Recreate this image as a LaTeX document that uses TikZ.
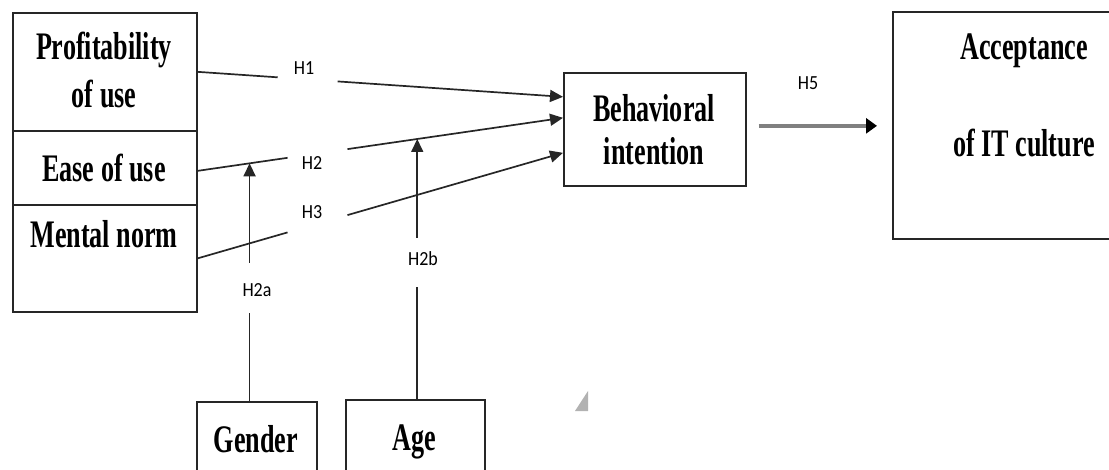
\documentclass[tikz,border=0pt]{standalone}
\usepackage{fontspec}
\setmainfont{Liberation Serif}
\newfontfamily\boxfont[FakeStretch=0.67]{Liberation Serif}
\newfontfamily\hfont[FakeStretch=0.9]{Carlito}
\usetikzlibrary{arrows.meta,calc}
\begin{document}
\begin{tikzpicture}[x=1pt,y=-1pt,
  box/.style={draw=black!85, line width=1.7pt, inner sep=0pt, anchor=north west},
  txt/.style={font=\boxfont\bfseries\fontsize{39}{44}\selectfont, anchor=base, inner sep=0pt},
  hl/.style={font=\hfont\fontsize{20}{22}\selectfont, inner sep=0pt},
  link/.style={line width=1.7pt, draw=black!85},
  arr/.style={link, -{Triangle[length=13pt,width=12pt]}},
  bigarr/.style={line width=4.5pt, draw=black!50, -{Triangle[length=11pt,width=15pt,color=black]}},
]
\useasboundingbox (0,0) rectangle (1109,470);

% boxes
\node[box, minimum width=184pt, minimum height=118pt] (prof) at (12,12) {};
\node[box, minimum width=184pt, minimum height=74pt] (ease) at (12,130) {};
\node[box, minimum width=184pt, minimum height=107pt] (mental) at (12,204) {};
\node[box, minimum width=182pt, minimum height=113pt] (beh) at (563,72) {};
\node[box, draw=none, minimum width=216pt, minimum height=225pt] (acc) at (893,12) {};
\draw[link, line cap=butt] (acc.north east) -- (acc.north west) -- (acc.south west) -- (acc.south east);
\node[box, draw=none, minimum width=118pt, minimum height=68pt] (gender) at (197,402) {};
\draw[link] (gender.south west) -- (gender.north west) -- (gender.north east) -- (gender.south east);
\node[box, draw=none, minimum width=137pt, minimum height=70pt] (age) at (346,400) {};
\draw[link] (age.south west) -- (age.north west) -- (age.north east) -- (age.south east);

% box texts
\node[txt] (t1) at (104,60) {Profitability};
\node[txt] (t2) at (104,108) {of use};
\node[txt] (t3) at (104,182) {Ease of use};
\node[txt] (t4) at (104,248) {Mental norm};
\node[txt] (t5) at (654,122) {Behavioral};
\node[txt] (t6) at (654,165) {intention};
\node[txt] (t7) at (1024,60) {Acceptance};
\node[txt] (t8) at (1024,157) {of IT culture};
\node[txt] (t9) at (256,452) {Gender};
\node[txt] (t10) at (414,450) {Age};

% connector end points
\coordinate (h1a) at (prof.east);
\coordinate (h1b) at ($(beh.west)+(0,-32.5)$);
\coordinate (h2a) at ($(ease.east)+(0,3)$);
\coordinate (h2b) at ($(beh.west)+(0,-11.5)$);
\coordinate (h3a) at (mental.east);
\coordinate (h3b) at ($(beh.west)+(0,23.5)$);

% H1
\draw[link] (h1a) -- ($(h1a)!0.219!(h1b)$);
\draw[arr] ($(h1a)!0.383!(h1b)$) -- (h1b);
% H2
\draw[link] (h2a) -- ($(h2a)!0.246!(h2b)$);
\draw[arr] ($(h2a)!0.41!(h2b)$) -- (h2b);
% H3
\draw[link] (h3a) -- ($(h3a)!0.246!(h3b)$);
\draw[arr] ($(h3a)!0.41!(h3b)$) -- (h3b);

\node[hl] (lh1) at (304,68) {H1};
\node[hl] (lh2) at (312,163) {H2};
\node[hl] (lh3) at (312,212) {H3};

% moderators
\coordinate (m2a) at ($(h2a)!0.142!(h2b)$);
\coordinate (y313) at (0,313);
\coordinate (y263) at (0,263);
\draw[link] (m2a |- gender.north) -- (m2a |- y313);
\draw[arr] (m2a |- y263) -- (m2a);
\node[hl] (lh2a) at (257,290) {H2a};

\coordinate (m2b) at ($(h2a)!0.601!(h2b)$);
\coordinate (y287) at (0,287);
\coordinate (y238) at (0,238);
\draw[link] (m2b |- age.north) -- (m2b |- y287);
\draw[arr] (m2b |- y238) -- (m2b);
\node[hl] (lh2b) at (423,259) {H2b};

% H5
\coordinate (h5a) at ($(beh.east)+(12,-3.5)$);
\coordinate (h5b) at ($(acc.west)+(-16,0.5)$);
\draw[bigarr] (h5a) -- (h5b);
\node[hl] (lh5) at (808,83) {H5};

% small grey mark
\fill[black!30] (575,411) -- (588,391) -- (588,411) -- cycle;
\end{tikzpicture}
\end{document}
